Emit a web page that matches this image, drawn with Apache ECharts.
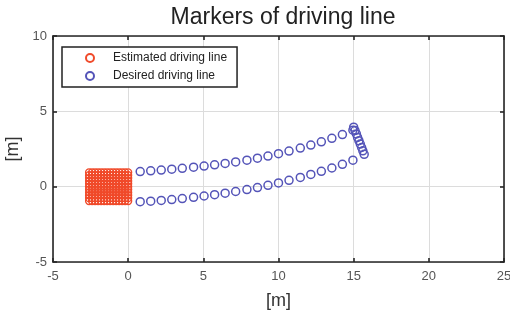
<!DOCTYPE html>
<html>
<head>
<meta charset="utf-8">
<script src="https://cdn.jsdelivr.net/npm/echarts@6/dist/echarts.min.js"></script>
<style>
  html, body { margin: 0; padding: 0; background: #fff; }
  #chart { width: 510px; height: 321px; }
</style>
</head>
<body>
<div id="chart"></div>
<script>
// estimated driving line: a dense block of markers (grid of x by y)
const estX = [-2.6, -2.4, -2.2, -2.0, -1.8, -1.6, -1.4, -1.2, -1.0, -0.8, -0.6, -0.4, -0.2, 0.0];
const estY = [-0.95, -0.76, -0.57, -0.38, -0.19, 0.0, 0.19, 0.38, 0.57, 0.76, 0.95];

// desired driving line, upper edge
const upperX = [0.8, 1.5, 2.2, 2.9, 3.6, 4.35, 5.05, 5.75, 6.45, 7.15, 7.9, 8.6, 9.3, 10.0, 10.7, 11.45, 12.15, 12.85, 13.55, 14.25, 14.95];
const upperY = [1.0, 1.05, 1.1, 1.16, 1.22, 1.29, 1.37, 1.45, 1.54, 1.64, 1.76, 1.89, 2.03, 2.19, 2.36, 2.56, 2.76, 2.98, 3.21, 3.46, 3.75];
// desired driving line, lower edge
const lowerX = [0.8, 1.5, 2.2, 2.9, 3.6, 4.35, 5.05, 5.75, 6.45, 7.15, 7.9, 8.6, 9.3, 10.0, 10.7, 11.45, 12.15, 12.85, 13.55, 14.25, 14.95];
const lowerY = [-1.0, -0.96, -0.91, -0.86, -0.79, -0.71, -0.62, -0.53, -0.43, -0.32, -0.19, -0.06, 0.09, 0.25, 0.42, 0.61, 0.81, 1.02, 1.24, 1.48, 1.76];
// desired driving line, end segment
const endX = [15.0, 15.09, 15.18, 15.26, 15.35, 15.44, 15.53, 15.61, 15.7];
const endY = [3.95, 3.72, 3.5, 3.27, 3.05, 2.83, 2.6, 2.38, 2.15];

const xTicks = [-5, 0, 5, 10, 15, 20, 25];
const yTicks = [-5, 0, 5, 10];

const RED = '#f04a2a';
const BLUE = '#5454b8';
const FONT = 'Liberation Sans, Arial, sans-serif';

const estData = [];
estX.forEach(x => estY.forEach(y => estData.push([x, y])));

const desiredData = [];
upperX.forEach((x, i) => desiredData.push([x, upperY[i]]));
lowerX.forEach((x, i) => desiredData.push([x, lowerY[i]]));
endX.forEach((x, i) => desiredData.push([x, endY[i]]));

const chart = echarts.init(document.getElementById('chart'));

const baseAxis = {
    axisLine: { show: true, onZero: false, lineStyle: { color: '#262626', width: 1.6 } },
    axisTick: { show: true, inside: true, length: 4, lineStyle: { color: '#262626', width: 1.6 } },
    splitLine: { show: false },
    axisLabel: { show: false }
};

const option = {
    animation: false,
    backgroundColor: '#fff',
    title: {
        text: 'Markers of driving line',
        left: 278,
        textAlign: 'center',
        top: 1,
        textStyle: { fontFamily: FONT, fontSize: 23, fontWeight: 'normal', color: '#222' }
    },
    legend: {
        orient: 'vertical',
        left: 62,
        top: 47,
        padding: [4, 10, 4, 23],
        itemGap: 4,
        itemWidth: 36,
        itemHeight: 8,
        borderColor: '#222',
        borderWidth: 1.5,
        backgroundColor: '#fff',
        textStyle: { fontFamily: FONT, fontSize: 12, color: '#222', lineHeight: 14 },
        data: ['Estimated driving line', 'Desired driving line']
    },
    grid: { left: 53, right: 6, top: 36, bottom: 59, outerBoundsMode: 'none' },
    xAxis: [
        Object.assign({}, baseAxis, {
            type: 'value', min: -5, max: 25, interval: 5, position: 'bottom',
            name: '[m]', nameLocation: 'middle', nameGap: 30,
            nameTextStyle: { fontFamily: FONT, fontSize: 18, color: '#333' },
            splitLine: { show: true, lineStyle: { color: '#dcdcdc', width: 1 } },
            axisLabel: { show: true, fontFamily: FONT, fontSize: 13, color: '#555', margin: 8,
                formatter: v => xTicks.includes(v) ? String(v) : '' }
        }),
        Object.assign({}, baseAxis, {
            type: 'value', min: -5, max: 25, interval: 5, position: 'top'
        })
    ],
    yAxis: [
        Object.assign({}, baseAxis, {
            type: 'value', min: -5, max: 10, interval: 5, position: 'left',
            name: '[m]', nameLocation: 'middle', nameGap: 26,
            nameTextStyle: { fontFamily: FONT, fontSize: 18, color: '#333' },
            splitLine: { show: true, lineStyle: { color: '#dcdcdc', width: 1 } },
            axisLabel: { show: true, fontFamily: FONT, fontSize: 13, color: '#555', margin: 6,
                formatter: v => yTicks.includes(v) ? String(v) : '' }
        }),
        Object.assign({}, baseAxis, {
            type: 'value', min: -5, max: 10, interval: 5, position: 'right'
        })
    ],
    series: [
        {
            name: 'Estimated driving line',
            type: 'scatter',
            symbol: 'circle',
            symbolSize: 7,
            itemStyle: { color: 'rgba(255,255,255,0)', borderColor: RED, borderWidth: 1.3, opacity: 1 },
            data: estData
        },
        {
            name: 'Desired driving line',
            type: 'scatter',
            symbol: 'circle',
            symbolSize: 8,
            itemStyle: { color: 'rgba(255,255,255,0)', borderColor: BLUE, borderWidth: 1.5, opacity: 1 },
            data: desiredData
        }
    ]
};

chart.setOption(option);
</script>
</body>
</html>
